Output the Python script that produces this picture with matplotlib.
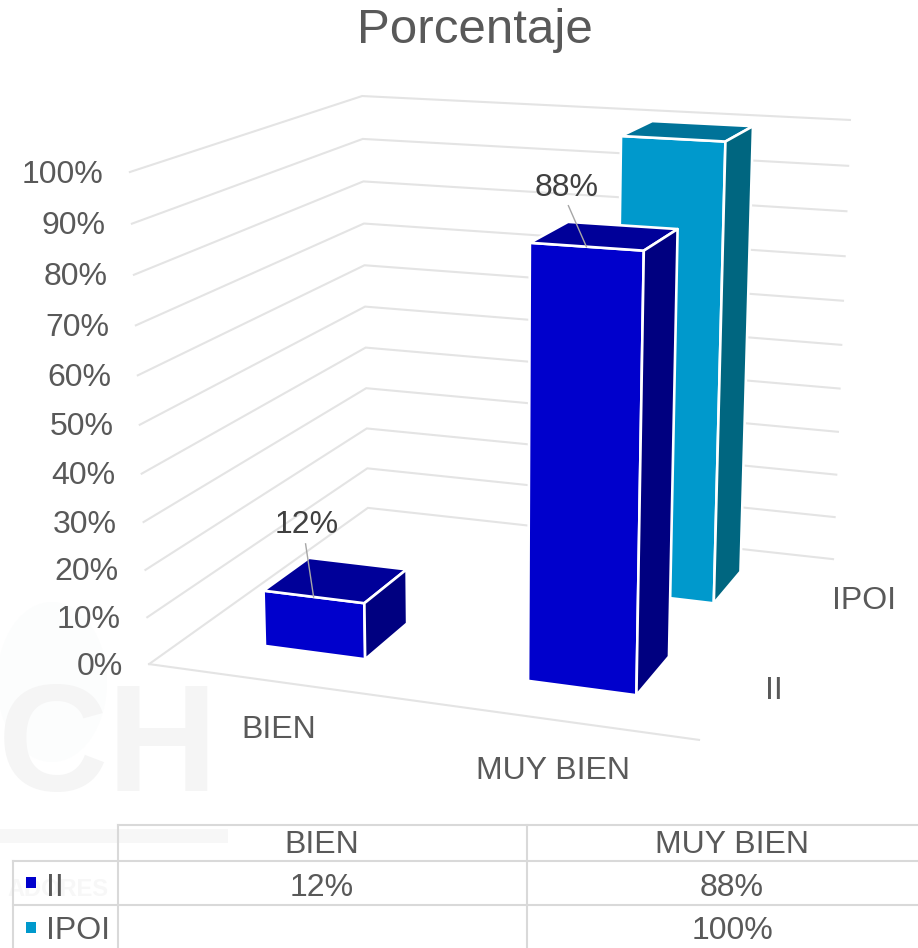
import numpy as np
import matplotlib
matplotlib.use("Agg")
import matplotlib.pyplot as plt
from matplotlib.patches import Ellipse, Polygon, Rectangle

plt.rcParams['font.family'] = ['Liberation Sans', 'DejaVu Sans']

categories = ["BIEN", "MUY BIEN"]
series_names = ["II", "IPOI"]
ii_values = [12, 88]
ipoi_values = [None, 100]
y_ticks = [0, 10, 20, 30, 40, 50, 60, 70, 80, 90, 100]

text_color = '#595959'
grid_color = '#E4E4E4'
table_color = '#D9D9D9'
ii_colors = ('#0000CC', '#000099', '#000080')      # front, top, side
ipoi_colors = ('#0099CC', '#007399', '#006680')
font_size = 23

# corners of the 3d box (category axis, depth, value) and where they land in the image
box_corners = [(0, 0, 0), (0, 1, 0), (1, 1, 0), (1, 0, 0), (0, 0, 1), (0, 1, 1), (1, 1, 1)]
box_pixels = [(149, 664), (368, 508), (833, 559), (699, 740), (130, 172), (362, 96), (850, 120)]

rows = []
for (u, d, z), (px, py) in zip(box_corners, box_pixels):
    rows.append([u, d, z, 1, 0, 0, 0, 0, -px * u, -px * d, -px * z, -px])
    rows.append([0, 0, 0, 0, u, d, z, 1, -py * u, -py * d, -py * z, -py])
P = np.linalg.svd(np.array(rows, float))[2][-1].reshape(3, 4)


def proj(u, d, z):
    p = P @ np.array([u, d, z, 1.0])
    return p[0] / p[2], p[1] / p[2]


fig = plt.figure(figsize=(9.18, 9.48), dpi=100)
ax = fig.add_axes([0, 0, 1, 1])
ax.set_xlim(0, 918)
ax.set_ylim(948, 0)
ax.axis('off')

# faint watermark behind the chart
ax.add_patch(Ellipse((52, 682), 110, 160, facecolor='#FCFDFD', edgecolor='none', zorder=0))
ax.text(108, 752, "CH", fontsize=110, fontweight='bold', ha='center', va='center',
        color='#F5F5F5', zorder=0)
ax.text(58, 890, "ADORES", fontsize=17, fontweight='bold', ha='center', va='center',
        color='#F7F7F7', zorder=0)
ax.add_patch(Rectangle((0, 829), 228, 14, facecolor='#F7F7F7', edgecolor='none', zorder=0))

ax.text(475, 30, "Porcentaje", fontsize=35.5, color=text_color, ha='center', va='center')

# walls and floor
for t in y_ticks:
    z = t / 100
    x0, y0 = proj(0, 0, z)
    x1, y1 = proj(0, 1, z)
    x2, y2 = proj(1, 1, z)
    ax.plot([x0, x1, x2], [y0, y1, y2], color=grid_color, lw=1.5, zorder=1,
            solid_joinstyle='miter')
    ax.text(x0 - 26.5, y0 + 2.5, f"{t}%", fontsize=font_size, color=text_color,
            ha='right', va='center')
fx0, fy0 = proj(0, 0, 0)
fx1, fy1 = proj(1, 0, 0)
ax.plot([fx0, fx1], [fy0, fy1], color=grid_color, lw=1.5, zorder=1)


def draw_bar(cat, depth, value, colors, zorder):
    u0, u1 = cat - 0.0975, cat + 0.0975
    d0, d1 = depth - 0.1, depth + 0.1
    z = value / 100
    front = [proj(u0, d0, 0), proj(u1, d0, 0), proj(u1, d0, z), proj(u0, d0, z)]
    top = [proj(u0, d0, z), proj(u1, d0, z), proj(u1, d1, z), proj(u0, d1, z)]
    side = [proj(u1, d0, 0), proj(u1, d1, 0), proj(u1, d1, z), proj(u1, d0, z)]
    for face, col in zip((front, top, side), colors):
        ax.add_patch(Polygon(face, closed=True, facecolor=col, edgecolor='white',
                             lw=1.9, joinstyle='round', zorder=zorder))


cat_pos = [0.25, 0.75]
for value, cat in zip(ipoi_values, cat_pos):
    if value is not None:
        draw_bar(cat, 0.76, value, ipoi_colors, 2)
for value, cat in zip(ii_values, cat_pos):
    draw_bar(cat, 0.255, value, ii_colors, 3)

# data labels with leader lines, only on the front series
label_offsets = [(-7, -72, -8, -53), (-20, -59, -18, -41)]
for value, cat, off in zip(ii_values, cat_pos, label_offsets):
    bx, by = proj(cat, 0.155, value / 100)
    ax.plot([bx, bx + off[2]], [by, by + off[3]], color='#A6A6A6', lw=1, zorder=4)
    ax.text(bx + off[0], by + off[1], f"{value}%", fontsize=font_size, color='#404040',
            ha='center', va='center', zorder=5)

# axis labels
for label, (tx, ty) in zip(categories, [(279, 730), (553, 771)]):
    ax.text(tx, ty, label, fontsize=font_size, color=text_color, ha='center', va='center')
for label, (tx, ty) in zip(series_names, [(774, 691), (864, 601)]):
    ax.text(tx, ty, label, fontsize=font_size, color=text_color, ha='center', va='center')

# data table
ax.plot([118, 918], [825, 825], color=table_color, lw=1.5, zorder=1)
for yl in [861, 905]:
    ax.plot([13, 918], [yl, yl], color=table_color, lw=1.5, zorder=1)
for xl in [118, 527]:
    ax.plot([xl, xl], [825, 948], color=table_color, lw=1.5, zorder=1)
ax.plot([13, 13], [861, 948], color=table_color, lw=1.5, zorder=1)

col_centers = [322, 732]
row_centers = [888, 931]
swatch_tops = [877, 922]
for label, cx in zip(categories, col_centers):
    ax.text(cx, 845, label, fontsize=font_size, color=text_color, ha='center', va='center')
table_rows = [ii_values, ipoi_values]
swatches = [ii_colors[0], ipoi_colors[0]]
for name, vals, swatch, cy, sy in zip(series_names, table_rows, swatches, row_centers, swatch_tops):
    ax.add_patch(Rectangle((26, sy), 10, 11, facecolor=swatch, edgecolor='none', zorder=3))
    ax.text(46, cy, name, fontsize=font_size, color=text_color, ha='left', va='center')
    for v, cx in zip(vals, col_centers):
        if v is not None:
            ax.text(cx, cy, f"{v}%", fontsize=font_size, color=text_color, ha='center', va='center')

fig.savefig("out.png", dpi=100)
